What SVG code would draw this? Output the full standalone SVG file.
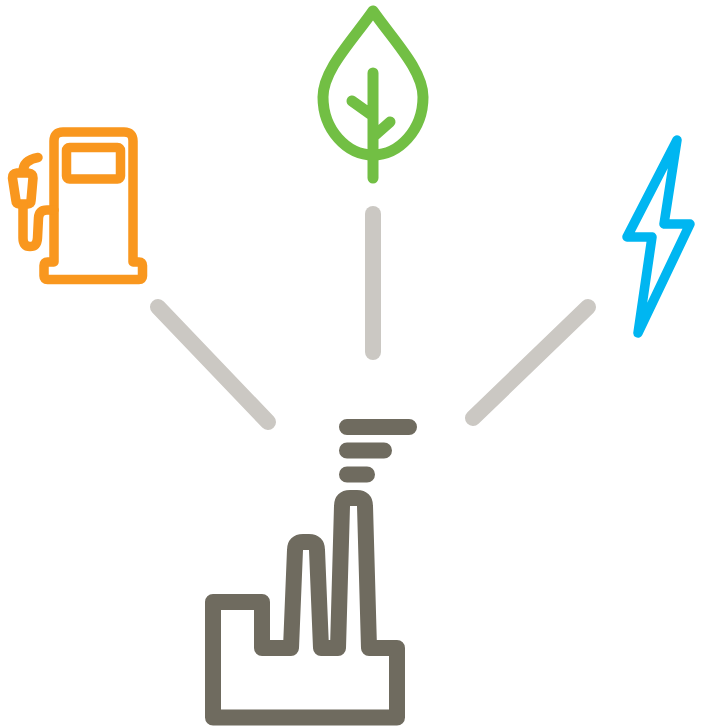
<svg xmlns="http://www.w3.org/2000/svg" width="702" height="727" viewBox="0 0 702 727">
<style>
.s{fill:none;stroke-linecap:round;stroke-linejoin:round}
.c{stroke:#cbc8c3;stroke-width:16}
.f{stroke:#6f6b5f;stroke-width:16}
.p{stroke:#f9971e;stroke-width:9.5}
.l{stroke:#72bf44;stroke-width:11}
.b{stroke:#00b6f1;stroke-width:9.5}
</style>
<rect width="702" height="727" fill="#fff"/>
<g id="connectors">
<path class="s c" d="M158 307L268 422"/>
<path class="s c" d="M373 214V352"/>
<path class="s c" d="M588 307L473 418"/>
</g>
<g id="factory">
<path class="s f" d="M213 602H262V648H291L295 550Q295 542 303 542H309Q317 542 317 550L321 648H338L342 506Q342 498 350 498H357Q365 498 365 506L369 648H397V717.5H213Z"/>
<path class="s f" d="M347 427H409M347 450.5H384M347 474.5H367"/>
</g>
<g id="fuel">
<path class="s p" d="M54 262V141Q54 132 63 132H124Q133 132 133 141V262H139Q142.500 262 142.500 265.500V276Q142.500 279.500 139 279.500H47.500Q44 279.500 44 276V265.500Q44 262 47.500 262H54"/>
<rect class="s p" x="66.500" y="147.500" width="54" height="31.500" rx="3"/>
<path class="s p" d="M12.500 178Q12.500 173.500 17 173L28 173Q33 173.500 33 178L31 201Q31 204 28 204H19Q16 204 16 201Z"/>
<path class="s p" d="M23 172Q23 160 38 157.500"/>
<path class="s p" d="M23 205V238Q23 246.500 30 246.500Q37 246.500 37.500 238L38.500 218Q39 210 47 210H54"/>
</g>
<g id="leaf">
<path class="s l" d="M373 11C352 41 323 70 323 97C323 130 347 155 373 155C399 155 423 130 423 97C423 70 394 41 373 11Z"/>
<path class="s l" d="M373 73V178M352 101L373 116M390 122L373 137"/>
</g>
<g id="bolt">
<path class="s b" d="M677 140L664 224H690L638 333L652 237H627Z"/>
</g>
</svg>
